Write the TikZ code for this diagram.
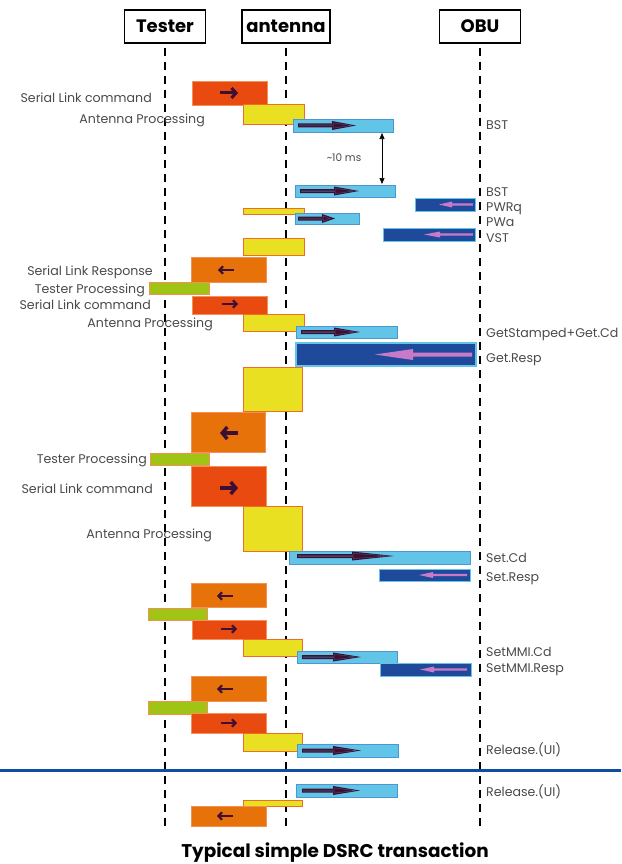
\documentclass[tikz,border=0pt]{standalone}
\usepackage{fontspec}
\setmainfont{Poppins}
\usetikzlibrary{arrows.meta,calc}
\definecolor{slc}{HTML}{E84A10}
\definecolor{slr}{HTML}{E8720A}
\definecolor{yel}{HTML}{E8E020}
\definecolor{grn}{HTML}{A0C414}
\definecolor{lblue}{HTML}{62C4E6}
\definecolor{lbluebd}{HTML}{4C96D4}
\definecolor{dblue}{HTML}{1F4A9C}
\definecolor{darr}{HTML}{3C0F33}
\definecolor{pinkarr}{HTML}{C87AC8}
\definecolor{hblue}{HTML}{0E4E9E}
\definecolor{labc}{HTML}{4A4A4A}
\definecolor{obdr}{HTML}{F39058}
\definecolor{ybdr}{HTML}{F06A2A}
\newcommand\bx[6]{%
  \pgfmathsetmacro\bw{#5-#3}\pgfmathsetmacro\bh{#6-#4}%
  \node[#1, anchor=north west, minimum width=\bw pt, minimum height=\bh pt] (#2) at (#3,#4) {};}
\newcommand\rarr[4]{%
  \fill[darr] (#1,#3-2) -- (#4,#3-2) -- (#4,#3-4.5) -- (#2,#3) -- (#4,#3+4.5) -- (#4,#3+2) -- (#1,#3+2) -- cycle;
  \draw[arrin] (#1+1.5,#3-0.6) -- (#4+1.2,#3-0.6) -- (#4+1.2,#3-2.6) -- (#2-5,#3) -- (#4+1.2,#3+2.6) -- (#4+1.2,#3+0.6) -- (#1+1.5,#3+0.6) -- cycle;}
\newcommand\larr[6]{%
  \fill[pinkarr] (#2,#3-#6) -- (#4,#3-#6) -- (#4,#3-#5) -- (#1,#3) -- (#4,#3+#5) -- (#4,#3+#6) -- (#2,#3+#6) -- cycle;}
\newcommand\garr[6]{%
  \draw[darr, line width=#4pt, -{Straight Barb[length=#5pt, width=#6pt]}] (#1,#3) -- (#2,#3);}
\begin{document}
\begin{tikzpicture}[x=1pt,y=-1pt,
  box/.style={inner sep=0pt, outer sep=0pt, line width=0.9pt},
  slcbox/.style={box, fill=slc, draw=obdr},
  slrbox/.style={box, fill=slr, draw=obdr},
  yelbox/.style={box, fill=yel, draw=ybdr},
  grnbox/.style={box, fill=grn, draw=obdr},
  lbbox/.style={box, fill=lblue, draw=lbluebd, line width=0.8pt},
  dbbox/.style={box, fill=dblue, draw=lblue, line width=0.8pt},
  arrin/.style={draw=darr!55!lblue, line width=0.3pt},
  hdr/.style={draw, line width=1.5pt, font=\fontsize{18}{18}\selectfont\bfseries, inner sep=0pt, minimum height=33pt},
  life/.style={line width=1.5pt, dash pattern=on 8pt off 6pt},
  llab/.style={anchor=mid east, inner sep=0pt, yshift=-2.5pt, text=labc, font=\fontsize{12.6}{12.6}\selectfont},
  rlab/.style={anchor=mid west, inner sep=0pt, yshift=-2.5pt, text=labc, font=\fontsize{12.6}{12.6}\selectfont}]
\useasboundingbox (0,0) rectangle (621,864);
% headers
\node[hdr, minimum width=81pt] (tester) at (165,26.5) {Tester};
\node[hdr, minimum width=88pt] (antenna) at (286,26.5) {antenna};
\node[hdr, minimum width=81pt] (obu) at (480,26.5) {OBU};
\coordinate (tbot) at (165,828);
\coordinate (abot) at (286,828);
\coordinate (obot) at (480,828);
\draw[life] ($(tester.south)+(0,4)$) -- (tbot);
\draw[life] ($(antenna.south)+(0,4)$) -- (abot);
\draw[life] ($(obu.south)+(0,4)$) -- (obot);
% separator
\draw[hblue, line width=3pt] (0,770) -- (621,770);
% boxes
\bx{slcbox}{s1}{192}{81}{267}{105}
\bx{yelbox}{a1}{243}{104}{304}{124}
\bx{lbbox}{bst1}{293}{119}{393}{132}
\bx{lbbox}{bst2}{295}{185}{395}{197}
\bx{dbbox}{pwrq}{415}{198}{475}{211}
\bx{yelbox}{a2}{243}{208}{304}{214}
\bx{lbbox}{pwa}{295}{213}{359}{224}
\bx{dbbox}{vst}{383}{228}{475}{241}
\bx{yelbox}{a3}{243}{238}{304}{255}
\bx{slrbox}{r1}{191}{257}{266}{282}
\bx{grnbox}{t1}{149}{282}{209}{294}
\bx{slcbox}{s2}{192}{296}{267}{314}
\bx{yelbox}{a4}{243}{314}{304}{331}
\bx{lbbox}{gcd}{296}{326}{397}{338}
\bx{dbbox, line width=1.6pt}{gresp}{296}{343}{476}{366}
\bx{yelbox}{a5}{243}{367}{302}{411}
\bx{slrbox}{r2}{191}{412}{265}{452}
\bx{grnbox}{t2}{150}{453}{209}{465}
\bx{slcbox}{s3}{191}{466}{266}{506}
\bx{yelbox}{a6}{243}{506}{302}{551}
\bx{lbbox}{setcd}{289}{551}{470}{564}
\bx{dbbox}{setr}{379}{569}{470}{581}
\bx{slrbox}{r3}{191}{583}{266}{607}
\bx{grnbox}{t3}{148}{608}{207}{620}
\bx{slcbox}{s4}{192}{620}{266}{639}
\bx{yelbox}{a7}{243}{639}{302}{656}
\bx{lbbox}{mmicd}{297}{651}{397}{663}
\bx{dbbox}{mmir}{380}{663}{471}{676}
\bx{slrbox}{r4}{191}{676}{266}{701}
\bx{grnbox}{t4}{148}{701}{207}{714}
\bx{slcbox}{s5}{191}{713}{266}{733}
\bx{yelbox}{a8}{243}{733}{302}{751}
\bx{lbbox}{rel1}{297}{744}{398}{757}
\bx{lbbox}{rel2}{296}{784}{397}{797}
\bx{yelbox}{a9}{243}{800}{302}{806}
\bx{slrbox}{r5}{191}{806}{266}{826}
% glyph arrows in serial link boxes
\garr{220}{238}{93}{3}{4.5}{10}
\garr{234}{218}{270}{2.2}{3.5}{7.5}
\garr{222}{238}{304}{2.2}{3.5}{7.5}
\garr{238}{220}{433}{3.5}{5}{12}
\garr{220}{238}{488}{3.5}{5}{12}
\garr{233}{217}{596}{2.2}{3.5}{7.5}
\garr{221}{237}{629}{2.2}{3.5}{7.5}
\garr{233}{217}{689}{2.2}{3.5}{7.5}
\garr{221}{237}{723}{2.2}{3.5}{7.5}
\garr{233}{217}{816}{2.2}{3.5}{7.5}
% downlink arrows
\rarr{298}{356}{125.5}{332}
\rarr{300}{359}{191}{334}
\rarr{298}{335}{218.5}{322}
\rarr{301}{360}{332}{334}
\rarr{297}{394}{556}{352}
\rarr{302}{361}{657}{333}
\rarr{302}{361}{750.5}{333}
\rarr{302}{360}{790.5}{333}
% uplink arrows
\larr{439}{473}{204.5}{452}{3}{1.1}
\larr{424}{473}{234.5}{440}{3}{1.2}
\larr{375}{472}{354.5}{413}{5.5}{2}
\larr{419}{467}{575}{433}{3}{1.1}
\larr{420}{467}{669.5}{434}{3}{1.1}
% timing
\coordinate (ms1) at (382,133);
\coordinate (ms2) at (382,184);
\draw[line width=0.6pt, {Triangle[length=6pt,width=5pt]}-{Triangle[length=6pt,width=5pt]}] (ms1) -- (ms2);
\node[inner sep=0pt, text=labc, font=\fontsize{10.5}{10.5}\selectfont] (ms) at (344,158) {\textasciitilde 10 ms};
% left labels
\node[llab] (l1) at (152,97) {Serial Link command};
\node[llab] (l2) at (205,118) {Antenna Processing};
\node[llab] (l3) at (153,270) {Serial Link Response};
\node[llab] (l4) at (145,288) {Tester Processing};
\node[llab] (l5) at (151,304) {Serial Link command};
\node[llab] (l6) at (213,322) {Antenna Processing};
\node[llab] (l7) at (147,458) {Tester Processing};
\node[llab] (l8) at (153,488) {Serial Link command};
\node[llab] (l9) at (212,533) {Antenna Processing};
% right labels
\node[rlab] (m1) at (486,124) {BST};
\node[rlab] (m2) at (486,191) {BST};
\node[rlab] (m3) at (486,206) {PWRq};
\node[rlab] (m4) at (486,221) {PWa};
\node[rlab] (m5) at (486,237) {VST};
\node[rlab] (m6) at (486,332) {GetStamped+Get.Cd};
\node[rlab] (m7) at (486,357) {Get.Resp};
\node[rlab] (m8) at (486,557) {Set.Cd};
\node[rlab] (m9) at (486,576) {Set.Resp};
\node[rlab] (m10) at (486,651) {SetMMI.Cd};
\node[rlab] (m11) at (486,667) {SetMMI.Resp};
\node[rlab] (m12) at (486,749) {Release.(UI)};
\node[rlab] (m13) at (486,791) {Release.(UI)};
% title
\node[inner sep=0pt, font=\fontsize{18.4}{18.4}\selectfont\bfseries] (title) at (335,853) {Typical simple DSRC transaction};
\end{tikzpicture}
\end{document}
